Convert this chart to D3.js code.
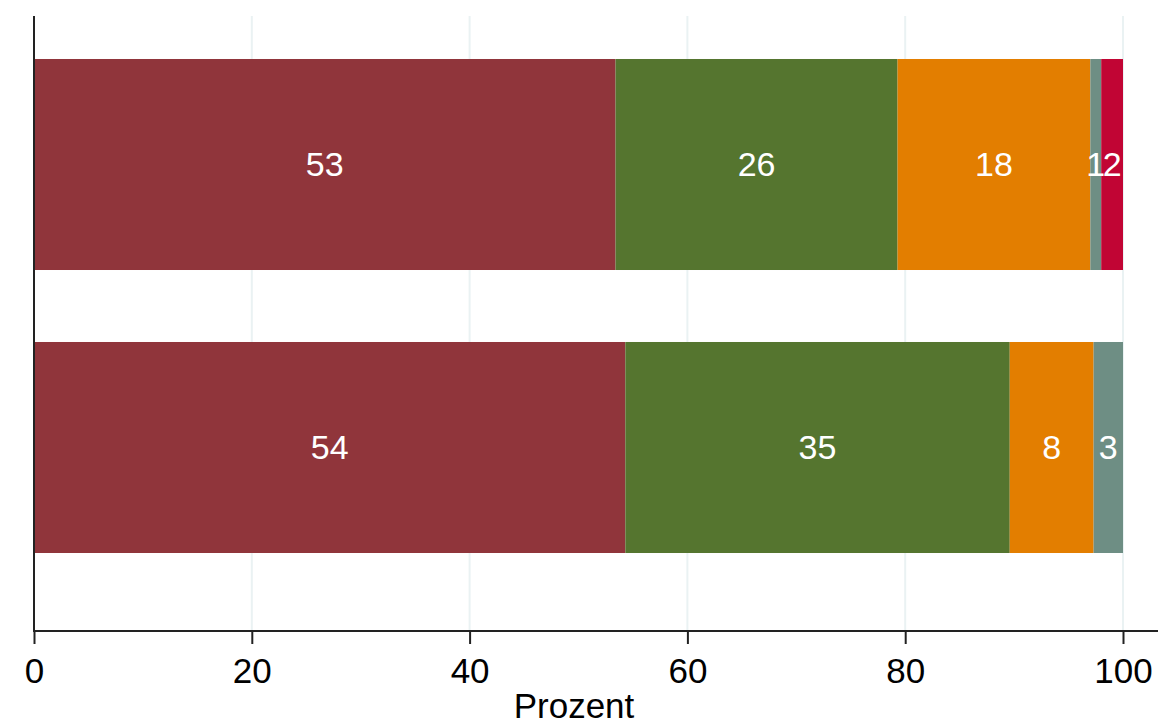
<!DOCTYPE html>
<html><head><meta charset="utf-8">
<script src="https://cdn.jsdelivr.net/npm/d3@7"></script>
<style>body{margin:0;background:#fff}svg{display:block;font-family:Arial,"Liberation Sans",sans-serif}</style>
</head><body>
<script>
const categories = ["A", "B"];
const seriesNames = ["s1", "s2", "s3", "s4", "s5"];
const seriesColors = ["#90353b", "#55752f", "#e37e00", "#6e8e84", "#c10534"];
const valuesA = [53.4, 25.9, 17.7, 1.0, 2.0];
const valuesB = [54.3, 35.3, 7.7, 2.7, 0];
const labelsA = ["53", "26", "18", "1", "2"];
const labelsB = ["54", "35", "8", "3", ""];
const xTicks = [0, 20, 40, 60, 80, 100];
const xTitle = "Prozent";

const W = 1158, H = 725;
const svg = d3.select("body").append("svg").attr("width", W).attr("height", H);
const x = d3.scaleLinear().domain([0, 100]).range([34, 1123]);
const y = d3.scaleBand().domain(categories).range([23, 589]).paddingInner(0.2544).paddingOuter(0.1272);
const plotTop = 16, axisY = 631;

// grid
svg.append("g").selectAll("line").data(xTicks.filter(d => d > 0)).join("line")
  .attr("x1", d => x(d)).attr("x2", d => x(d)).attr("y1", plotTop).attr("y2", axisY)
  .attr("stroke", "#eaf2f3").attr("stroke-width", 2);

const rows = [
  {cat: categories[0], vals: valuesA, labs: labelsA},
  {cat: categories[1], vals: valuesB, labs: labelsB}
];
rows.forEach(r => {
  let cum = 0;
  const segs = r.vals.map((v, i) => { const s = {x0: cum, x1: cum + v, lab: r.labs[i], c: seriesColors[i]}; cum += v; return s; });
  const g = svg.append("g");
  g.selectAll("rect").data(segs.filter(s => s.x1 > s.x0)).join("rect")
    .attr("x", s => x(s.x0)).attr("width", s => x(s.x1) - x(s.x0))
    .attr("y", y(r.cat)).attr("height", y.bandwidth()).attr("fill", s => s.c);
  g.selectAll("text").data(segs.filter(s => s.lab)).join("text")
    .attr("x", s => (x(s.x0) + x(s.x1)) / 2).attr("y", y(r.cat) + y.bandwidth() / 2)
    .attr("dy", "0.35em").attr("text-anchor", "middle").attr("fill", "#fff")
    .attr("font-size", 34).text(s => s.lab);
});

// y axis line
svg.append("line").attr("x1", 34).attr("x2", 34).attr("y1", plotTop).attr("y2", axisY)
  .attr("stroke", "#222").attr("stroke-width", 2);

// x axis
const xa = svg.append("g").attr("transform", `translate(0,${axisY})`)
  .call(d3.axisBottom(x).tickValues(xTicks).tickSize(13).tickPadding(14).tickSizeOuter(0));
xa.select(".domain").remove();
xa.append("line").attr("x1", 33).attr("x2", W).attr("stroke", "#222").attr("stroke-width", 2);
xa.selectAll(".tick line").attr("stroke", "#222").attr("stroke-width", 2);
xa.selectAll(".tick text").attr("font-size", 35).attr("fill", "#000").attr("font-family", "Arial, 'Liberation Sans', sans-serif");

svg.append("text").attr("x", 574).attr("y", 718).attr("text-anchor", "middle")
  .attr("font-size", 35).attr("fill", "#000").text(xTitle);
</script>
</body></html>
